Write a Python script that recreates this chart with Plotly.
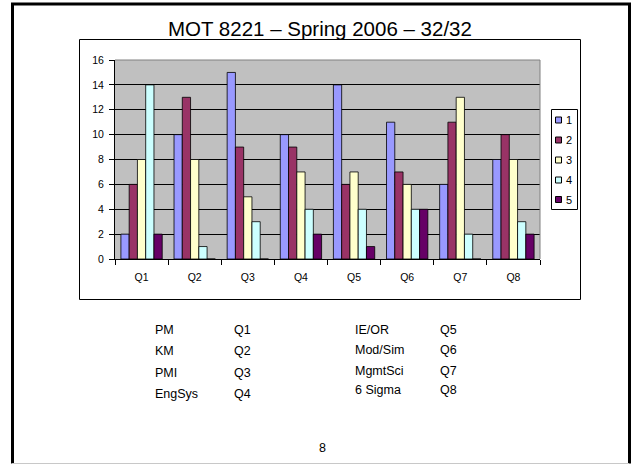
import plotly.graph_objects as go

# Survey responses per question, split by rating 1-5
questions = ["Q1", "Q2", "Q3", "Q4", "Q5", "Q6", "Q7", "Q8"]
rating_1 = [2, 10, 15, 10, 14, 11, 6, 8]
rating_2 = [6, 13, 9, 9, 6, 7, 11, 10]
rating_3 = [8, 8, 5, 7, 7, 6, 13, 8]
rating_4 = [14, 1, 3, 4, 4, 4, 2, 3]
rating_5 = [2, 0, 0, 2, 1, 4, 0, 2]

series_names = ["1", "2", "3", "4", "5"]
series_values = [rating_1, rating_2, rating_3, rating_4, rating_5]
series_colors = ["#9999FF", "#993366", "#FFFFCC", "#CCFFFF", "#660066"]

# Topic key shown under the chart
topics_left = ["PM", "KM", "PMI", "EngSys"]
codes_left = ["Q1", "Q2", "Q3", "Q4"]
topics_right = ["IE/OR", "Mod/Sim", "MgmtSci", "6 Sigma"]
codes_right = ["Q5", "Q6", "Q7", "Q8"]

title_text = "MOT 8221 \u2013 Spring 2006 \u2013 32/32"
page_number = "8"

W, H = 632, 465
L, R, T, B = 115, 540, 60, 259
PW, PH = R - L, B - T


def px(x):
    return (x - L) / PW


def py(y):
    return (B - y) / PH


FONT = "Arial, Liberation Sans, sans-serif"

fig = go.Figure()
for name, vals, col in zip(series_names, series_values, series_colors):
    fig.add_trace(go.Bar(
        x=questions, y=vals, name=name,
        marker=dict(color=col, line=dict(color="#000000", width=0.8)),
        showlegend=False,
    ))

shapes = []
annotations = []

# slide frame
shapes.append(dict(type="line", xref="paper", yref="paper", x0=px(12.5), x1=px(12.5),
                   y0=py(3.5), y1=py(463.5), line=dict(color="#000000", width=3)))
shapes.append(dict(type="line", xref="paper", yref="paper", x0=px(11), x1=px(631),
                   y0=py(4), y1=py(4), line=dict(color="#000000", width=3)))
shapes.append(dict(type="line", xref="paper", yref="paper", x0=px(629.5), x1=px(629.5),
                   y0=py(3.5), y1=py(463.5), line=dict(color="#000000", width=3)))
shapes.append(dict(type="line", xref="paper", yref="paper", x0=px(12), x1=px(629),
                   y0=py(463.5), y1=py(463.5), line=dict(color="#C8C8C8", width=1)))

# chart box
shapes.append(dict(type="rect", xref="paper", yref="paper", x0=px(79.5), x1=px(580.5),
                   y0=py(299.5), y1=py(39.5), line=dict(color="#000000", width=1)))

# plot area border (top and right)
shapes.append(dict(type="line", xref="paper", yref="paper", x0=0, x1=1, y0=1, y1=1,
                   line=dict(color="#808080", width=1)))
shapes.append(dict(type="line", xref="paper", yref="paper", x0=1, x1=1, y0=0, y1=1,
                   line=dict(color="#808080", width=1)))

# legend box
shapes.append(dict(type="rect", xref="paper", yref="paper", x0=px(551.5), x1=px(577.5),
                   y0=py(209.5), y1=py(109.5), line=dict(color="#000000", width=1),
                   fillcolor="#FFFFFF", layer="below"))
legend_y = [120, 140, 160, 180, 199.5]
for name, col, yy in zip(series_names, series_colors, legend_y):
    shapes.append(dict(type="rect", xref="paper", yref="paper", x0=px(555.5), x1=px(561.5),
                       y0=py(yy + 3), y1=py(yy - 3), line=dict(color="#000000", width=1),
                       fillcolor=col))
    annotations.append(dict(text=name, xref="paper", yref="paper", x=px(563.5), y=py(yy),
                            xanchor="left", yanchor="middle", showarrow=False,
                            font=dict(family=FONT, size=11, color="#000000")))

# title
annotations.append(dict(text=title_text, xref="paper", yref="paper", x=px(320), y=py(28.5),
                        xanchor="center", yanchor="middle", showarrow=False,
                        font=dict(family=FONT, size=20.5, color="#000000")))

# topic key
rows_left_y = [330, 351, 373, 394]
rows_right_y = [330, 350, 371, 390]
for t, c, yy in zip(topics_left, codes_left, rows_left_y):
    annotations.append(dict(text=t, xref="paper", yref="paper", x=px(153), y=py(yy),
                            xanchor="left", yanchor="middle", showarrow=False,
                            font=dict(family=FONT, size=12.5, color="#000000")))
    annotations.append(dict(text=c, xref="paper", yref="paper", x=px(232), y=py(yy),
                            xanchor="left", yanchor="middle", showarrow=False,
                            font=dict(family=FONT, size=12.5, color="#000000")))
for t, c, yy in zip(topics_right, codes_right, rows_right_y):
    annotations.append(dict(text=t, xref="paper", yref="paper", x=px(353), y=py(yy),
                            xanchor="left", yanchor="middle", showarrow=False,
                            font=dict(family=FONT, size=12.5, color="#000000")))
    annotations.append(dict(text=c, xref="paper", yref="paper", x=px(438), y=py(yy),
                            xanchor="left", yanchor="middle", showarrow=False,
                            font=dict(family=FONT, size=12.5, color="#000000")))

annotations.append(dict(text=page_number, xref="paper", yref="paper", x=px(322), y=py(448),
                        xanchor="center", yanchor="middle", showarrow=False,
                        font=dict(family=FONT, size=12.5, color="#000000")))

fig.update_layout(
    width=W, height=H,
    margin=dict(l=L, r=W - R, t=T, b=H - B, pad=0),
    paper_bgcolor="#FFFFFF",
    plot_bgcolor="#C0C0C0",
    barmode="group",
    bargap=0.222,
    bargroupgap=0,
    showlegend=False,
    font=dict(family=FONT, size=10, color="#000000"),
    shapes=shapes,
    annotations=annotations,
    xaxis=dict(
        type="category", showgrid=False, showline=True, linecolor="#000000", linewidth=1,
        ticks="outside", tickson="boundaries", ticklen=5, tickcolor="#000000", tickwidth=1,
        tickfont=dict(family=FONT, size=10.5, color="#000000"), ticklabelstandoff=8,
        fixedrange=True,
    ),
    yaxis=dict(
        range=[0, 16], dtick=2, showgrid=True, gridcolor="#000000", gridwidth=1,
        showline=True, linecolor="#000000", linewidth=1, zeroline=False,
        ticks="outside", ticklen=5, tickcolor="#000000", tickwidth=1,
        tickfont=dict(family=FONT, size=10.5, color="#000000"), ticklabelstandoff=3,
        fixedrange=True,
    ),
)

fig.write_html("out.html")
